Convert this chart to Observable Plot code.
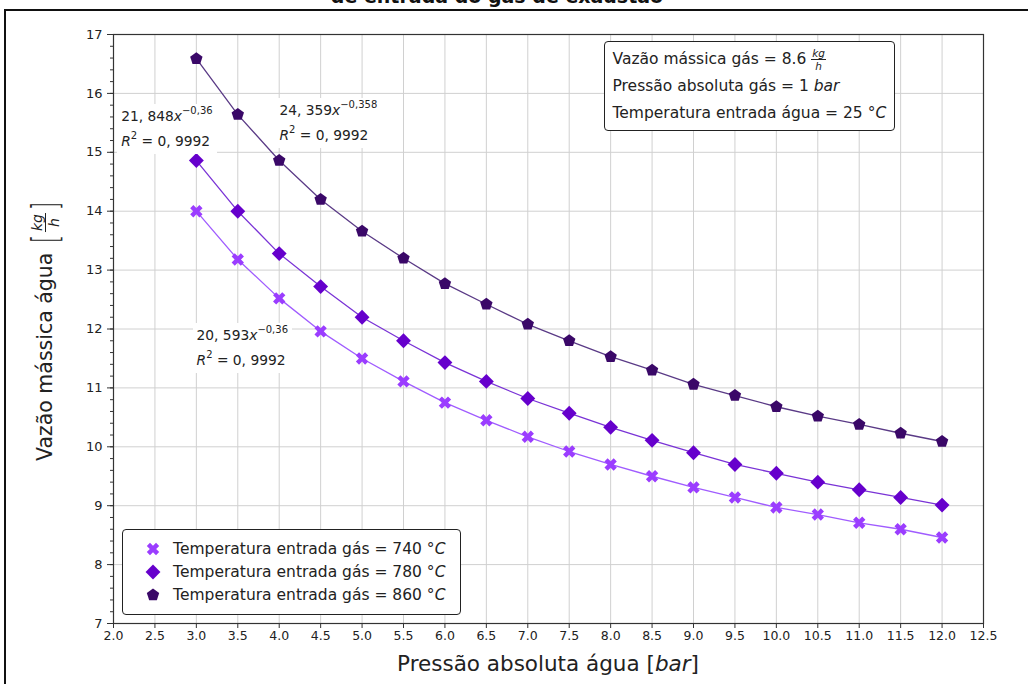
<!DOCTYPE html>
<html><head><meta charset="utf-8">
<script src="https://cdn.jsdelivr.net/npm/d3@7"></script>
<script src="https://cdn.jsdelivr.net/npm/@observablehq/plot@0.6"></script>
<style>
body{margin:0;background:#fff;font-family:"DejaVu Sans",sans-serif;color:#222;}
#wrap{position:relative;width:1028px;height:684px;overflow:hidden;background:#fff;}
#frame{position:absolute;left:4px;top:9px;width:1100px;height:800px;border-left:2px solid #111;border-top:2px solid #111;pointer-events:none;}
#title{position:absolute;top:-15px;left:0;width:994px;text-align:center;font:bold 19px "DejaVu Sans",sans-serif;color:#111;white-space:nowrap;}
#chart{position:absolute;left:0;top:0;}
.box{position:absolute;background:#fff;border:1.3px solid #222;border-radius:4px;box-sizing:border-box;}
.anno{position:absolute;background:#fff;font-size:13.8px;line-height:25px;padding:0 4px;white-space:nowrap;color:#222;}
.anno sup{font-size:10px;vertical-align:7px;line-height:0;}
.info{font-size:15.5px;line-height:27px;padding:6px 8px;white-space:nowrap;}
.frac{display:inline-flex;flex-direction:column;align-items:center;vertical-align:middle;font-style:italic;line-height:1;}
.frac .n{font-size:10.5px;border-bottom:1px solid #222;padding:0 1px 1px;}
.frac .d{font-size:10.5px;padding-top:1px;}
.leg{font-size:15.5px;}
.leg .row{position:absolute;left:0;height:23px;display:flex;align-items:center;white-space:nowrap;}
.leg svg{margin-left:22px;margin-right:12px;}
#xlab{position:absolute;left:0;width:1096px;top:651px;text-align:center;font-size:21.5px;white-space:nowrap;}
#ylab{position:absolute;left:45px;top:330px;transform:translate(-50%,-50%) rotate(-90deg);font-size:20.5px;white-space:nowrap;display:flex;align-items:center;}
#ylab .br{font-size:36px;font-weight:200;line-height:1;transform:scaleX(0.6);display:inline-block;}
#ylab .frac .n,#ylab .frac .d{font-size:14px;}
</style>
</head><body>
<div id="wrap">
<div id="frame"></div>
<div id="title">de entrada do gás de exaustão</div>
<div id="chart"></div>
</div>
<script>
const pressao = [3.0,3.5,4.0,4.5,5.0,5.5,6.0,6.5,7.0,7.5,8.0,8.5,9.0,9.5,10.0,10.5,11.0,11.5,12.0];
const vazao740 = [14.00,13.18,12.52,11.96,11.50,11.11,10.75,10.45,10.17,9.92,9.70,9.50,9.31,9.14,8.97,8.85,8.71,8.60,8.46];
const vazao780 = [14.86,14.00,13.28,12.72,12.20,11.80,11.43,11.11,10.82,10.57,10.33,10.11,9.90,9.70,9.55,9.40,9.27,9.14,9.01];
const vazao860 = [16.59,15.64,14.86,14.20,13.66,13.20,12.77,12.42,12.08,11.80,11.53,11.30,11.06,10.87,10.68,10.52,10.38,10.23,10.09];
const temperaturas = ["740","780","860"];
const cores = ["#9b3dff","#6600cc","#3a0868"];
const coresLinha = ["#a05cff","#7a33d6","#5a3a86"];
const xTicks = [2.0,2.5,3.0,3.5,4.0,4.5,5.0,5.5,6.0,6.5,7.0,7.5,8.0,8.5,9.0,9.5,10.0,10.5,11.0,11.5,12.0,12.5];
const yTicks = [7,8,9,10,11,12,13,14,15,16,17];
const yMinor = d3.range(70,171,2).map(v=>v/10);

// custom marker symbols (matplotlib-like 'X', 'D', 'p')
const symX = {draw(ctx,size){const r=Math.sqrt(size/Math.PI);const a=r*1.05,b=r*0.36;
  const pts=[[b,a],[b,b],[a,b],[a,-b],[b,-b],[b,-a],[-b,-a],[-b,-b],[-a,-b],[-a,b],[-b,b],[-b,a]];
  const c=Math.SQRT1_2;pts.forEach(([x,y],i)=>{const X=(x-y)*c,Y=(x+y)*c;i?ctx.lineTo(X,Y):ctx.moveTo(X,Y);});ctx.closePath();}};
const symD = {draw(ctx,size){const r=Math.sqrt(size/Math.PI)*1.2;ctx.moveTo(0,-r);ctx.lineTo(r,0);ctx.lineTo(0,r);ctx.lineTo(-r,0);ctx.closePath();}};
const symP = {draw(ctx,size){const r=Math.sqrt(size/Math.PI)*1.05;for(let i=0;i<5;i++){const t=-Math.PI/2+i*2*Math.PI/5;const X=r*Math.cos(t),Y=r*Math.sin(t);i?ctx.lineTo(X,Y):ctx.moveTo(X,Y);}ctx.closePath();}};
const simbolos = [symX,symD,symP];
const series = [vazao740,vazao780,vazao860];

const dados = [];
series.forEach((s,k)=>s.forEach((v,i)=>dados.push({x:pressao[i],y:v,t:temperaturas[k]})));

const marks = [
  Plot.gridX(xTicks,{stroke:"#d0d0d0",strokeOpacity:1,strokeWidth:1}),
  Plot.gridY(yTicks,{stroke:"#d0d0d0",strokeOpacity:1,strokeWidth:1}),
];
temperaturas.forEach((t,k)=>{
  const d = dados.filter(r=>r.t===t);
  marks.push(Plot.line(d,{x:"x",y:"y",stroke:coresLinha[k],strokeWidth:1.3}));
});
temperaturas.forEach((t,k)=>{
  const d = dados.filter(r=>r.t===t);
  marks.push(Plot.dot(d,{x:"x",y:"y",fill:cores[k],symbol:()=>simbolos[k],r:6.2}));
});
marks.push(
  Plot.frame({stroke:"#333",strokeWidth:1.2}),
  Plot.axisX(xTicks,{tickFormat:d3.format(".1f"),tickSize:5,tickPadding:3,label:null,fontSize:12.5,stroke:"#333"}),
  Plot.axisY(yTicks,{tickFormat:d3.format("d"),tickSize:6,tickPadding:5,label:null,fontSize:13,stroke:"#333"}),
  Plot.axisY(yMinor,{tickSize:3,text:null,label:null,stroke:"#333"})
);

const plot = Plot.plot({
  width:1028,height:684,
  marginLeft:113,marginRight:45,marginTop:34,marginBottom:61,
  x:{domain:[2.0,12.5]},
  y:{domain:[7,17]},
  style:{fontFamily:"DejaVu Sans",fontSize:"12.5px",color:"#222",background:"transparent"},
  marks
});
document.getElementById("chart").appendChild(plot);
const wrap = document.getElementById("wrap");
const sx = v=>plot.scale("x").apply(v), sy = v=>plot.scale("y").apply(v);

function add(html,cls,left,top,extra=""){const d=document.createElement("div");d.className=cls;d.style.cssText=`left:${left}px;top:${top}px;${extra}`;d.innerHTML=html;wrap.appendChild(d);return d;}

// fitted-curve annotations (anchored in data coordinates)
const annos = [
  {x:2.05,y:15.81,a:"21, 848",e:"−0,36"},
  {x:3.96,y:15.92,a:"24, 359",e:"−0,358"},
  {x:2.96,y:12.1,a:"20, 593",e:"−0,36"}
];
annos.forEach(o=>add(`${o.a}<i>x</i><sup>${o.e}</sup><br><i>R</i><sup>2</sup> = 0, 9992`,"anno",sx(o.x),sy(o.y)));

// info box
add(`Vazão mássica gás = 8.6 <span class="frac"><span class="n">kg</span><span class="d">h</span></span><br>Pressão absoluta gás = 1 <i>bar</i><br>Temperatura entrada água = 25 °<i>C</i>`,
  "box info",sx(7.92),sy(16.88),"width:291px;height:90px;padding-top:4px;");

// legend
const leg = add("","box leg",sx(2.11),sy(8.6),"width:339px;height:86px;");
temperaturas.forEach((t,k)=>{
  const row=document.createElement("div");row.className="row";row.style.top=(8+k*23)+"px";
  const p=d3.symbol(simbolos[k],Math.PI*6.2*6.2)();
  row.innerHTML=`<svg width="16" height="16" viewBox="-8 -8 16 16"><path d="${p}" fill="${cores[k]}"/></svg>Temperatura entrada gás = ${t} °<i>C</i>`;
  leg.appendChild(row);
});

// axis labels
add(`Pressão absoluta água [<i>bar</i>]`,"","0","651").id="xlab";
const yl=add(`Vazão mássica água&nbsp;<span class="br">[</span><span class="frac"><span class="n">kg</span><span class="d">h</span></span><span class="br">]</span>`,"","45","330");
yl.id="ylab";
</script>
</body></html>
